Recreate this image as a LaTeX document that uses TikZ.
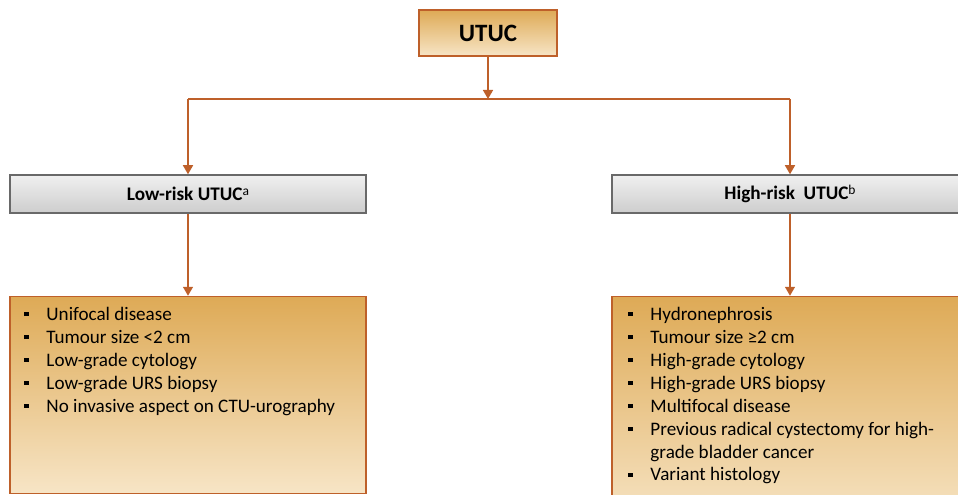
\documentclass[tikz,border=0pt]{standalone}
\usepackage{fontspec}
\setmainfont{Carlito}
\usetikzlibrary{positioning,arrows.meta}

\definecolor{rust}{RGB}{190,96,42}
\definecolor{goldtop}{RGB}{222,170,86}
\definecolor{goldbot}{RGB}{247,229,198}
\definecolor{greytop}{RGB}{240,240,240}
\definecolor{greybot}{RGB}{205,205,205}
\definecolor{greyline}{RGB}{105,105,105}

% bullet with fixed hang
\newcommand{\bul}{\makebox[6.6mm][l]{\rule[0.22em]{0.22em}{0.22em}}}
% superscript mark
\newcommand{\supmark}[1]{\raisebox{0.6ex}{\normalfont\fontsize{11.5pt}{12pt}\selectfont #1}}

\tikzset{
  goldbox/.style={draw=rust, line width=0.45mm, top color=goldtop, bottom color=goldbot, inner sep=0pt},
  riskbox/.style={draw=greyline, line width=0.45mm, top color=greytop, bottom color=greybot,
    minimum width=106.8mm, minimum height=11.4mm, font=\fontsize{16.4pt}{18pt}\selectfont\bfseries},
  listtext/.style={anchor=north west, inner sep=0pt, align=left, font=\fontsize{16.3pt}{19.6pt}\selectfont},
  conn/.style={draw=rust, line width=0.45mm, -{Triangle[width=3mm,length=2.7mm]}},
  plain/.style={draw=rust, line width=0.45mm},
}

\begin{document}
\begin{tikzpicture}[x=0.3mm, y=-0.3mm]
        \useasboundingbox (0,0) rectangle (958,495);
        \clip (0,0) rectangle (958,495);

        % NODES
        % -----------------

        \node[goldbox, minimum width=41.4mm, minimum height=13.8mm,
              font=\fontsize{21.3pt}{24pt}\selectfont\bfseries] (utuc) at (488,33) {UTUC};
        \coordinate (split) at (488,99);

        \node[riskbox] (low)  at (188,194) {Low-risk UTUC\supmark{a}};
        \node[riskbox] (high) at (790,194) {High-risk\ \ UTUC\supmark{b}};

        \node[goldbox, below=24.6mm of low, minimum width=106.8mm, minimum height=59.1mm]  (lowlist)  {};
        \node[goldbox, below=24.6mm of high, minimum width=106.8mm, minimum height=69mm]   (highlist) {};

        % LIST TEXT
        % -----------------

        \node[listtext] (lowitems) at ([shift={(15,11)}]lowlist.north west)
        {\bul Unifocal disease\\
         \bul Tumour size <2 cm\\
         \bul Low-grade cytology\\
         \bul Low-grade URS biopsy\\
         \bul No invasive aspect on CTU-urography};

        \node[listtext] (highitems) at ([shift={(17,11)}]highlist.north west)
        {\bul Hydronephrosis\\
         \bul Tumour size ≥2 cm\\
         \bul High-grade cytology\\
         \bul High-grade URS biopsy\\
         \bul Multifocal disease\\
         \bul Previous radical cystectomy for high-\\
         \hspace*{6.6mm}grade bladder cancer\\
         \bul Variant histology};

        % EDGES
        % -----------------

        \draw[conn]  (utuc) -- (split);
        \draw[plain] (low |- split) -- (high |- split);
        \draw[conn]  (low |- split) -- (low);
        \draw[conn]  (high |- split) -- (high);
        \draw[conn]  (low) -- (lowlist);
        \draw[conn]  (high) -- (highlist);

\end{tikzpicture}
\end{document}
